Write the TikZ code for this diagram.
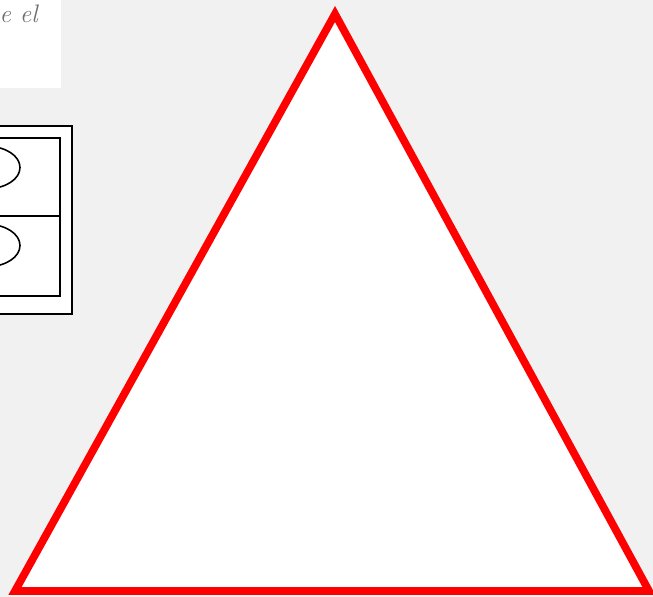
\documentclass[tikz,border=0pt]{standalone}
\usepackage{xcolor}
\usepackage{tikz}
\usetikzlibrary{positioning}
\definecolor{pagegray}{RGB}{241,241,241}
\definecolor{signred}{RGB}{255,0,0}
\definecolor{notegray}{RGB}{110,110,110}

\begin{document}
\begin{tikzpicture}[x=0.02cm, y=-0.02cm, every node/.style={font=\Large\itshape}]
            \useasboundingbox (0,0) rectangle (653,597);
            \fill[pagegray] (0,0) rectangle (653,597);
            \begin{scope}
            \clip (0,0) rectangle (653,597);
            % note card
            \fill[white] (-5,-5) rectangle (61,88);
            \node[notegray, anchor=base east, inner sep=0pt] (note) at (38,23) {e el};
            % framed panel with two cells
            \draw[fill=white, line width=1.2pt] (-10,126) rectangle (72,314);
            \draw[line width=1.2pt] (-10,138) rectangle (60,296);
            \draw[line width=1.2pt] (-10,216) -- (60,216);
            \draw[line width=0.9pt] (-12,167.5) ellipse (32 and 21);
            \draw[line width=0.9pt] (-12,245.5) ellipse (32 and 21);
            % warning triangle
            \draw[signred, fill=white, line width=4.4pt] (335,14) -- (649,591) -- (15,591) -- cycle;
            \end{scope}
        \end{tikzpicture}
\end{document}
